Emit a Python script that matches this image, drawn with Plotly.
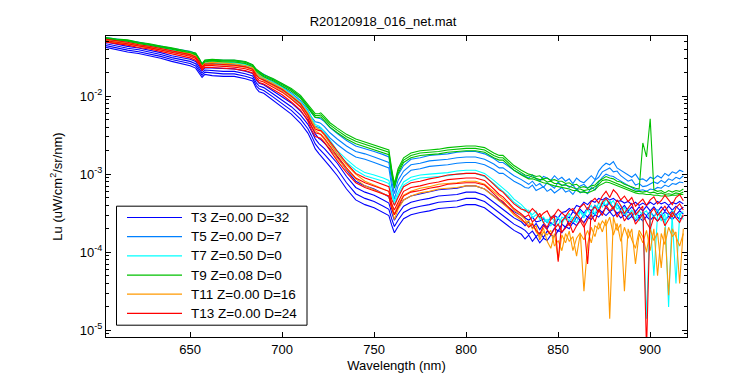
import numpy as np
import plotly.graph_objects as go

# ---------------- data (log10 of Lu, uW/cm^2/sr/nm) ----------------
wavelength_smooth_nm = [604, 610, 616, 622, 628, 634, 640, 646, 650, 653, 655, 656.5, 658, 662, 668, 674,
                        680, 684, 686, 687.5, 690, 695, 700, 705, 710, 714, 716, 718, 720, 721, 723, 726,
                        730, 735, 740, 745, 750, 755, 758, 759.5, 761, 763, 766, 770, 775, 780, 785, 790,
                        795, 800, 805, 810, 815, 818, 820, 823, 826, 830]
wavelength_noisy_nm = [832, 834, 836, 838, 840, 842, 844, 846, 848, 850, 852,
                       854, 856, 858, 860, 862, 864, 866, 868, 870, 872, 874,
                       876, 878, 880, 882, 884, 886, 888, 890, 892, 894, 896,
                       898, 900, 902, 904, 906, 908, 910, 912, 914, 916, 918]

# relative spread of the casts of one station along the smooth part
cast_spread = [0.3, 0.3, 0.3, 0.3, 0.3, 0.3, 0.3, 0.3, 0.35, 0.35, 0.35, 0.35, 0.35,
               0.4, 0.4, 0.4, 0.4, 0.4, 0.45, 0.45, 0.45, 0.5, 0.55, 0.6, 0.65, 0.7,
               0.75, 0.8, 0.8, 0.85, 0.9, 0.95,
               1, 1, 1, 1, 1, 1, 1, 1, 1, 1, 1, 1, 1, 1, 1, 1, 1, 1, 1, 1, 1, 1, 1, 1, 1, 1]

t3_center = [-1.34, -1.37, -1.40, -1.42, -1.45, -1.48, -1.52, -1.55, -1.57, -1.60,
             -1.66, -1.72, -1.68, -1.69, -1.70, -1.70, -1.73, -1.76, -1.85, -1.89,
             -1.91, -1.99, -2.08, -2.16, -2.27, -2.39, -2.48, -2.58, -2.64, -2.66,
             -2.71, -2.79, -2.90, -3.07, -3.21, -3.27, -3.31, -3.37, -3.41, -3.53,
             -3.63, -3.55, -3.45, -3.40, -3.37, -3.35, -3.32, -3.31, -3.30, -3.27,
             -3.27, -3.31, -3.40, -3.46, -3.50, -3.55, -3.60, -3.65]
t5_center = [-1.27, -1.29, -1.31, -1.33, -1.36, -1.38, -1.41, -1.43, -1.45, -1.48,
             -1.55, -1.61, -1.57, -1.56, -1.57, -1.57, -1.59, -1.63, -1.70, -1.72,
             -1.76, -1.82, -1.88, -1.96, -2.06, -2.18, -2.27, -2.33, -2.34, -2.35,
             -2.39, -2.47, -2.55, -2.64, -2.71, -2.74, -2.78, -2.82, -2.85, -3.08,
             -3.25, -3.08, -2.96, -2.88, -2.86, -2.83, -2.82, -2.81, -2.79, -2.78,
             -2.78, -2.81, -2.87, -2.92, -2.92, -2.97, -3.02, -3.07]
t7_center = [-1.28, -1.29, -1.31, -1.34, -1.36, -1.39, -1.41, -1.44, -1.46, -1.48,
             -1.56, -1.62, -1.58, -1.57, -1.58, -1.58, -1.60, -1.64, -1.71, -1.74,
             -1.77, -1.83, -1.90, -1.99, -2.09, -2.21, -2.30, -2.38, -2.40, -2.42,
             -2.48, -2.58, -2.72, -2.83, -2.93, -3.00, -3.03, -3.07, -3.10, -3.25,
             -3.37, -3.25, -3.12, -3.06, -3.03, -3.02, -3.01, -3.00, -2.98, -2.97,
             -2.97, -3.01, -3.10, -3.16, -3.19, -3.26, -3.34, -3.41]
t9_center = [-1.26, -1.28, -1.29, -1.32, -1.34, -1.37, -1.39, -1.42, -1.44, -1.46,
             -1.53, -1.60, -1.55, -1.54, -1.55, -1.55, -1.57, -1.61, -1.67, -1.70,
             -1.74, -1.79, -1.85, -1.92, -2.01, -2.13, -2.20, -2.25, -2.25, -2.24,
             -2.29, -2.37, -2.44, -2.52, -2.58, -2.62, -2.66, -2.69, -2.72, -2.96,
             -3.15, -2.96, -2.82, -2.76, -2.73, -2.72, -2.71, -2.69, -2.68, -2.67,
             -2.67, -2.69, -2.76, -2.79, -2.79, -2.85, -2.92, -2.98]
t11_center = [-1.29, -1.31, -1.33, -1.35, -1.38, -1.40, -1.43, -1.45, -1.47, -1.50,
              -1.57, -1.63, -1.59, -1.58, -1.59, -1.60, -1.62, -1.65, -1.72, -1.75,
              -1.79, -1.85, -1.92, -2.01, -2.11, -2.24, -2.34, -2.42, -2.45, -2.47,
              -2.53, -2.63, -2.77, -2.91, -3.03, -3.12, -3.17, -3.21, -3.25, -3.40,
              -3.55, -3.42, -3.30, -3.25, -3.21, -3.19, -3.16, -3.15, -3.14, -3.12,
              -3.12, -3.16, -3.25, -3.31, -3.35, -3.41, -3.49, -3.56]
t13_center = [-1.29, -1.31, -1.33, -1.36, -1.38, -1.41, -1.44, -1.47, -1.49, -1.52,
              -1.58, -1.65, -1.61, -1.61, -1.62, -1.63, -1.65, -1.68, -1.76, -1.80,
              -1.82, -1.89, -1.95, -2.04, -2.14, -2.28, -2.39, -2.47, -2.49, -2.49,
              -2.54, -2.64, -2.77, -2.92, -3.05, -3.11, -3.15, -3.19, -3.22, -3.38,
              -3.46, -3.36, -3.22, -3.17, -3.15, -3.12, -3.10, -3.07, -3.06, -3.05,
              -3.05, -3.08, -3.19, -3.26, -3.29, -3.36, -3.44, -3.51]

t3_cast_offsets = [0.12, 0.04, -0.04, -0.12]
t5_cast_offsets = [0.07, 0.0, -0.07]
t7_cast_offsets = [0.02, -0.02]
t9_cast_offsets = [0.03, 0.0, -0.03]
t11_cast_offsets = [0.03, -0.03]
t13_cast_offsets = [0.06, 0.0, -0.06]

# noisy tail (832-918 nm), one list per cast
t3_tail = [
    [-3.56, -3.59, -3.55, -3.61, -3.60, -3.57, -3.62, -3.55, -3.53, -3.56, -3.49,
     -3.48, -3.44, -3.47, -3.40, -3.42, -3.36, -3.39, -3.34, -3.36, -3.31, -3.33,
     -3.30, -3.33, -3.31, -3.35, -3.34, -3.37, -3.35, -3.39, -3.36, -3.40, -3.37,
     -3.40, -3.36, -3.39, -3.35, -3.38, -3.36, -3.40, -3.36, -3.38, -3.35, -3.38],
    [-3.66, -3.61, -3.69, -3.63, -3.71, -3.64, -3.70, -3.62, -3.66, -3.57, -3.61,
     -3.53, -3.56, -3.48, -3.52, -3.45, -3.50, -3.43, -3.47, -3.40, -3.44, -3.37,
     -3.42, -3.36, -3.43, -3.38, -3.45, -3.40, -3.47, -3.42, -3.48, -3.42, -3.47,
     -3.41, -3.47, -3.42, -3.48, -3.42, -3.47, -3.41, -3.46, -3.41, -3.46, -3.42],
    [-3.72, -3.77, -3.73, -3.80, -3.75, -3.81, -3.73, -3.77, -3.69, -3.73, -3.64,
     -3.68, -3.59, -3.63, -3.55, -3.59, -3.51, -3.55, -3.48, -3.52, -3.45, -3.49,
     -3.43, -3.48, -3.45, -3.50, -3.47, -3.52, -3.48, -3.53, -3.49, -3.54, -3.49,
     -3.53, -3.48, -3.54, -3.49, -3.53, -3.48, -3.52, -3.47, -3.52, -3.47, -3.51],
    [-3.83, -3.78, -3.86, -3.80, -3.88, -3.82, -3.85, -3.78, -3.80, -3.72, -3.75,
     -3.67, -3.70, -3.62, -3.66, -3.58, -3.62, -3.55, -3.58, -3.52, -3.55, -3.49,
     -3.53, -3.48, -3.54, -3.50, -3.56, -3.52, -3.58, -3.54, -3.60, -3.55, -3.60,
     -3.54, -3.59, -3.54, -3.60, -3.55, -3.59, -3.54, -3.58, -3.53, -3.58, -3.54],
]
t5_tail = [
    [-3.02, -3.05, -3.01, -3.06, -3.09, -3.03, -3.05, -3.08, -3.02, -3.07, -3.04,
     -3.09, -3.06, -3.12, -3.05, -3.09, -3.11, -3.06, -3.02, -3.07, -2.96, -2.90,
     -2.86, -2.88, -2.84, -2.92, -2.95, -2.97, -3.01, -3.04, -3.00, -3.07, -3.06,
     -3.09, -3.04, -3.06, -3.02, -3.05, -2.99, -3.02, -2.97, -2.99, -2.95, -2.97],
    [-3.10, -3.13, -3.09, -3.15, -3.12, -3.17, -3.11, -3.14, -3.18, -3.10, -3.15,
     -3.13, -3.17, -3.14, -3.20, -3.15, -3.13, -3.18, -3.14, -3.08, -3.04, -2.97,
     -2.95, -2.92, -2.97, -2.96, -3.02, -3.05, -3.09, -3.07, -3.14, -3.12, -3.16,
     -3.15, -3.13, -3.10, -3.12, -3.08, -3.11, -3.06, -3.08, -3.04, -3.06, -3.02],
    [-3.17, -3.18, -3.14, -3.21, -3.19, -3.16, -3.22, -3.19, -3.24, -3.20, -3.17,
     -3.23, -3.21, -3.26, -3.19, -3.24, -3.22, -3.25, -3.17, -3.20, -3.10, -3.04,
     -3.00, -3.02, -3.03, -3.06, -3.09, -3.12, -3.15, -3.17, -3.20, -3.21, -3.20,
     -3.22, -3.19, -3.20, -3.17, -3.18, -3.14, -3.16, -3.12, -3.13, -3.10, -3.11],
]
t7_tail = [
    [-3.44, -3.48, -3.52, -3.47, -3.58, -3.55, -3.62, -3.54, -3.60, -3.66, -3.55,
     -3.58, -3.50, -3.62, -3.52, -3.48, -3.56, -3.45, -3.40, -3.52, -3.36, -3.42,
     -3.32, -3.38, -3.34, -3.45, -3.40, -3.52, -3.44, -3.50, -3.58, -3.47, -3.52,
     -4.85, -3.48, -3.56, -3.45, -3.60, -3.50, -4.70, -3.46, -3.55, -3.50, -3.58],
    [-3.48, -3.46, -3.56, -3.52, -3.55, -3.62, -3.58, -3.66, -3.60, -3.55, -3.64,
     -3.54, -3.60, -3.55, -3.62, -3.47, -3.52, -3.44, -3.55, -3.40, -3.44, -3.35,
     -3.40, -3.33, -3.46, -3.38, -3.50, -3.42, -3.56, -3.46, -3.52, -3.60, -3.50,
     -3.47, -3.58, -4.30, -3.52, -3.48, -3.62, -3.50, -3.56, -4.40, -3.52, -3.48],
]
t9_tail = [
    [-2.98, -3.00, -3.01, -3.03, -3.02, -3.06, -3.05, -3.08, -3.07, -3.09, -3.09,
     -3.12, -3.11, -3.14, -3.13, -3.17, -3.16, -3.18, -3.15, -3.14, -3.09, -3.06,
     -3.03, -3.05, -3.06, -3.09, -3.10, -3.13, -3.15, -3.17, -3.18, -3.19, -2.60,
     -2.78, -2.29, -3.20, -3.22, -3.21, -3.24, -3.21, -3.23, -3.21, -3.22, -3.19],
    [-3.01, -3.02, -3.04, -3.05, -3.07, -3.07, -3.10, -3.09, -3.12, -3.12, -3.14,
     -3.14, -3.16, -3.17, -3.19, -3.19, -3.21, -3.20, -3.19, -3.16, -3.13, -3.08,
     -3.07, -3.08, -3.10, -3.12, -3.14, -3.16, -3.19, -3.20, -3.22, -3.22, -3.23,
     -3.22, -3.24, -3.23, -3.25, -3.24, -3.26, -3.25, -3.26, -3.24, -3.25, -3.23],
    [-3.04, -3.06, -3.06, -3.08, -3.09, -3.11, -3.12, -3.14, -3.15, -3.16, -3.17,
     -3.18, -3.19, -3.21, -3.21, -3.23, -3.23, -3.24, -3.22, -3.20, -3.15, -3.12,
     -3.10, -3.11, -3.13, -3.15, -3.17, -3.19, -3.21, -3.23, -3.24, -3.25, -3.25,
     -3.26, -3.26, -3.27, -3.27, -3.28, -3.28, -3.28, -3.27, -3.27, -3.26, -3.26],
]
t11_tail = [
    [-3.58, -3.66, -3.62, -3.74, -3.80, -3.69, -3.86, -3.95, -3.76, -4.10, -3.78,
     -3.88, -3.73, -3.98, -3.82, -3.75, -4.50, -3.90, -3.68, -3.80, -3.62, -3.74,
     -3.58, -4.85, -3.55, -3.72, -3.64, -4.50, -3.70, -3.84, -3.95, -3.72, -3.80,
     -4.00, -3.70, -3.85, -3.75, -4.20, -3.68, -4.55, -3.70, -3.80, -3.92, -3.76],
    [-3.62, -3.60, -3.70, -3.66, -3.84, -3.74, -3.78, -3.72, -3.92, -3.85, -3.98,
     -3.76, -3.86, -3.80, -4.05, -3.76, -3.84, -3.72, -3.88, -3.66, -3.70, -3.60,
     -3.66, -3.55, -3.78, -3.63, -3.86, -3.68, -3.82, -3.70, -4.15, -3.76, -3.88,
     -3.72, -3.98, -3.70, -4.30, -3.76, -3.90, -3.68, -3.80, -3.74, -4.40, -3.70],
]
t13_tail = [
    [-3.46, -3.50, -3.44, -3.49, -3.55, -3.50, -3.47, -3.56, -3.52, -3.45, -3.50,
     -3.54, -3.47, -3.44, -3.51, -3.42, -3.38, -3.46, -3.35, -3.31, -3.37, -3.28,
     -3.22, -3.30, -3.20, -3.25, -3.33, -3.28, -3.35, -3.30, -3.41, -3.36, -3.32,
     -3.40, -3.33, -3.29, -3.38, -3.34, -3.27, -3.33, -3.39, -3.30, -3.26, -3.34],
    [-3.55, -3.52, -3.61, -3.57, -3.50, -3.62, -3.68, -3.58, -3.54, -4.12, -3.60,
     -3.55, -3.66, -3.58, -3.51, -3.57, -3.63, -4.15, -3.47, -3.42, -3.49, -3.36,
     -3.31, -3.38, -3.45, -3.33, -3.40, -3.50, -3.44, -3.37, -3.52, -3.46, -3.41,
     -5.25, -3.50, -3.44, -3.53, -3.47, -3.41, -3.49, -3.55, -3.43, -3.38, -3.46],
    [-3.62, -3.68, -3.64, -3.72, -3.77, -3.66, -3.71, -3.78, -3.70, -3.64, -3.74,
     -3.69, -3.62, -3.75, -3.66, -3.60, -3.68, -3.58, -3.52, -3.61, -3.46, -3.53,
     -3.40, -3.47, -3.42, -3.55, -3.47, -3.60, -3.53, -3.49, -3.64, -3.57, -3.51,
     -3.62, -3.70, -3.55, -3.60, -3.53, -3.66, -3.58, -3.49, -3.56, -3.62, -3.52],
]

legend_labels = ["T3 Z=0.00 D=32", "T5 Z=0.00 D=7", "T7 Z=0.50 D=0",
                 "T9 Z=0.08 D=0", "T11 Z=0.00 D=16", "T13 Z=0.00 D=24"]
series_colors = ["#0000FF", "#0080FF", "#00FFFF", "#00C000", "#FF9900", "#FF0000"]

y_tick_values = [1e-5, 1e-4, 1e-3, 1e-2]
y_tick_text = ["10<sup>-5</sup>", "10<sup>-4</sup>", "10<sup>-3</sup>", "10<sup>-2</sup>"]
x_tick_values = [650, 700, 750, 800, 850, 900]

# ---------------- figure ----------------
stations = [
    (t3_center, t3_cast_offsets, t3_tail),
    (t5_center, t5_cast_offsets, t5_tail),
    (t7_center, t7_cast_offsets, t7_tail),
    (t9_center, t9_cast_offsets, t9_tail),
    (t11_center, t11_cast_offsets, t11_tail),
    (t13_center, t13_cast_offsets, t13_tail),
]

fig = go.Figure()
x_all = wavelength_smooth_nm + wavelength_noisy_nm
for (center, offsets, tails), label, color in zip(stations, legend_labels, series_colors):
    for k, off in enumerate(offsets):
        smooth = [c + off * s for c, s in zip(center, cast_spread)]
        y_log = np.array(smooth + tails[k])
        fig.add_trace(go.Scatter(
            x=x_all, y=10 ** y_log, mode="lines",
            line=dict(color=color, width=1.1),
            name=label, legendgroup=label, showlegend=False,
            hoverinfo="skip",
        ))

# ---- legend box drawn in the MATLAB style (paper coordinates of the plot area) ----
W, H = 750, 375
M_L, M_R, M_T, M_B = 98, 71, 28, 41
plot_w = W - M_L - M_R
plot_h = H - M_T - M_B


def px_to_paper_x(px):
    return (px - M_L) / plot_w


def px_to_paper_y(py):
    return (H - M_B - py) / plot_h


legend_box = dict(x0=108.5, x1=299, y0=201, y1=322)
legend_row_y = [212.5, 232, 251.5, 271, 290.5, 310]
legend_line_x = (119, 174)
legend_text_x = 181

shapes = [dict(type="rect", xref="paper", yref="paper", layer="above",
               x0=px_to_paper_x(legend_box["x0"]), x1=px_to_paper_x(legend_box["x1"]),
               y0=px_to_paper_y(legend_box["y1"]), y1=px_to_paper_y(legend_box["y0"]),
               line=dict(color="black", width=1), fillcolor="white")]
annotations = []
for label, color, ry in zip(legend_labels, series_colors, legend_row_y):
    shapes.append(dict(type="line", xref="paper", yref="paper", layer="above",
                       x0=px_to_paper_x(legend_line_x[0]), x1=px_to_paper_x(legend_line_x[1]),
                       y0=px_to_paper_y(ry), y1=px_to_paper_y(ry),
                       line=dict(color=color, width=1.2)))
    annotations.append(dict(xref="paper", yref="paper", x=px_to_paper_x(legend_text_x),
                            y=px_to_paper_y(ry), xanchor="left", yanchor="middle",
                            text=label, showarrow=False,
                            font=dict(size=13.5, color="black")))

font_family = "Liberation Sans, Arial, Helvetica, sans-serif"
minor_vals = [m * 10.0 ** e for e in range(-6, -1) for m in range(2, 10)]

fig.update_layout(
    width=W, height=H,
    margin=dict(l=M_L, r=M_R, t=M_T, b=M_B),
    paper_bgcolor="white", plot_bgcolor="white",
    font=dict(family=font_family, size=13, color="black"),
    title=dict(text="R20120918_016_net.mat", x=0.5, xanchor="center",
               y=1 - 13 / 375, yref="container", yanchor="middle",
               font=dict(size=13, color="black")),
    showlegend=False,
    shapes=shapes,
    annotations=annotations,
    xaxis=dict(range=[604.3, 920], tickvals=x_tick_values, ticks="inside", ticklen=5,
               tickcolor="black", showline=True, linecolor="black", linewidth=1,
               mirror="ticks", showgrid=False, zeroline=False,
               tickfont=dict(size=13),
               title=dict(text="Wavelength (nm)", standoff=5, font=dict(size=13))),
    yaxis=dict(type="log", range=[-5.085, -1.231], tickvals=y_tick_values, ticktext=y_tick_text,
               ticks="inside", ticklen=5, tickcolor="black", showline=True,
               linecolor="black", linewidth=1, mirror="ticks", showgrid=False,
               zeroline=False, tickfont=dict(size=13),
               minor=dict(tickvals=minor_vals, ticks="inside", ticklen=3, tickcolor="black",
                          showgrid=False),
               title=dict(text="Lu (uW/cm<sup>2</sup>/sr/nm)", standoff=14, font=dict(size=13))),
)

fig.write_html("out.html")
